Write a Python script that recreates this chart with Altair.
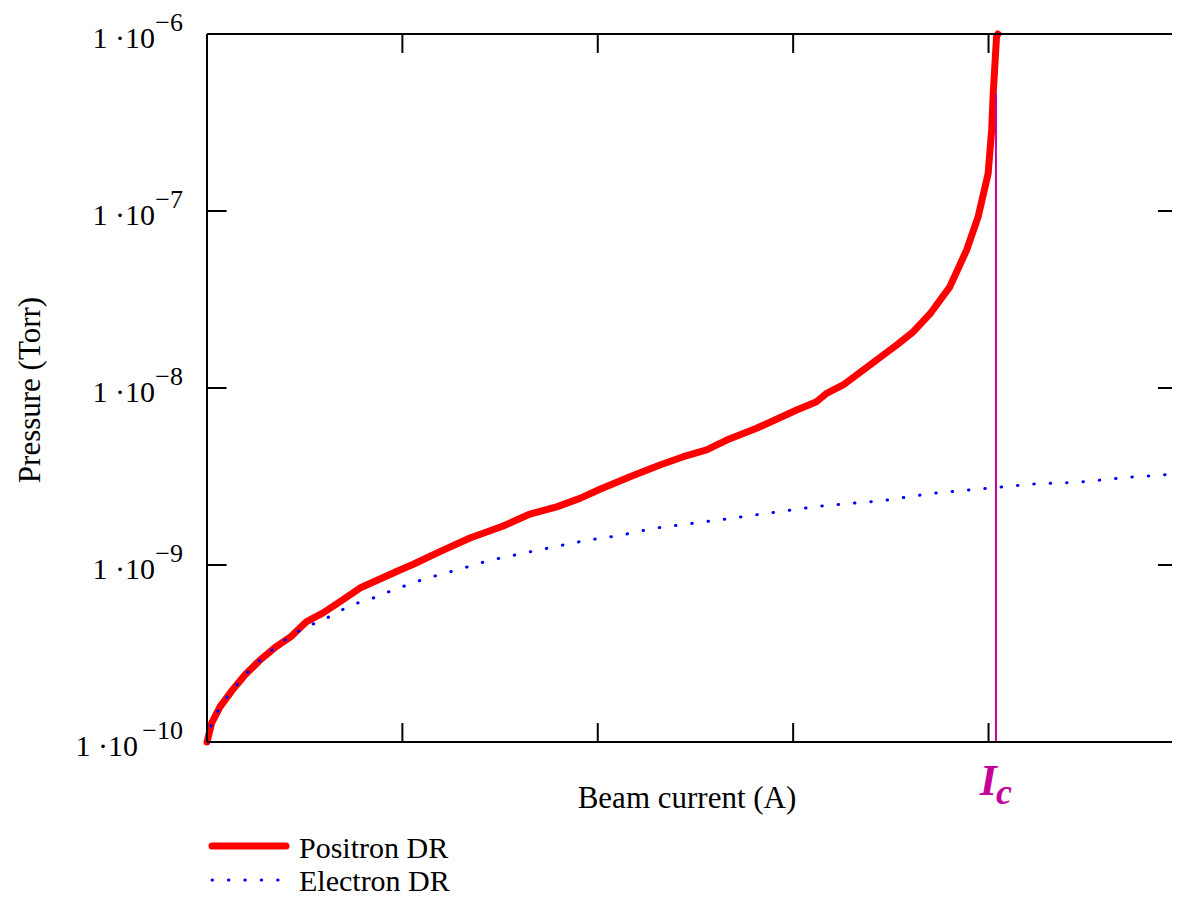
import altair as alt
import pandas as pd

# ---------------- data ----------------
series_names = ["Positron DR", "Electron DR"]

# Positron DR (red, solid)
pos_x = [0, 0.024, 0.0665, 0.126, 0.194, 0.268, 0.353, 0.433, 0.510, 0.594, 0.681,
         0.783, 0.885, 0.988, 1.056, 1.192, 1.346, 1.516, 1.653, 1.790, 1.909, 2.011,
         2.165, 2.318, 2.438, 2.557, 2.660, 2.813, 3.018, 3.120, 3.171, 3.256, 3.393,
         3.530, 3.615, 3.700, 3.802, 3.888, 3.947, 3.998, 4.016, 4.024, 4.041, 4.048]
pos_p = [1.0e-10, 1.28e-10, 1.58e-10, 1.94e-10, 2.39e-10, 2.88e-10, 3.45e-10, 3.97e-10,
         4.79e-10, 5.36e-10, 6.21e-10, 7.41e-10, 8.34e-10, 9.37e-10, 1.01e-9, 1.19e-9,
         1.42e-9, 1.66e-9, 1.94e-9, 2.13e-9, 2.38e-9, 2.68e-9, 3.15e-9, 3.67e-9, 4.09e-9,
         4.47e-9, 5.08e-9, 5.92e-9, 7.51e-9, 8.37e-9, 9.33e-9, 1.04e-8, 1.35e-8, 1.75e-8,
         2.08e-8, 2.62e-8, 3.73e-8, 6.02e-8, 9.29e-8, 1.63e-7, 2.87e-7, 4.62e-7, 9.66e-7,
         1.0e-6]

# Electron DR (blue, dotted)
ele_x = [0, 0.024, 0.0665, 0.126, 0.194, 0.268, 0.353, 0.433, 0.518, 0.604, 0.689,
         0.774, 0.855, 0.940, 1.107, 1.278, 1.443, 1.611, 1.781, 1.946, 2.114, 2.284,
         2.625, 2.881, 3.136, 3.458, 3.710, 3.961, 4.213, 4.464, 4.717, 4.886, 4.975]
ele_p = [1.0e-10, 1.28e-10, 1.58e-10, 1.94e-10, 2.39e-10, 2.88e-10, 3.45e-10, 4.02e-10,
         4.52e-10, 4.95e-10, 5.57e-10, 6.12e-10, 6.53e-10, 7.13e-10, 8.30e-10, 9.37e-10,
         1.06e-9, 1.16e-9, 1.27e-9, 1.38e-9, 1.47e-9, 1.61e-9, 1.80e-9, 1.97e-9, 2.15e-9,
         2.31e-9, 2.54e-9, 2.69e-9, 2.86e-9, 2.94e-9, 3.13e-9, 3.22e-9, 3.31e-9]

# critical current marker
ic_x = [4.038]
ic_p_top = [4.6e-7]
ic_label = ["I", "c"]

# axes
x_ticks = [0, 1, 2, 3, 4]
y_exps = [-10, -9, -8, -7, -6]
x_title = "Beam current (A)"
y_title = "Pressure (Torr)"

X_MAX = 4.939          # visible right edge of the plot
P_MIN, P_MAX = 1e-10, 1e-6

FONT = "Liberation Serif"
RED = "#ff0000"
BLUE = "#0000ff"
MAGENTA = "#c8009b"

# ---------------- tables ----------------
pos_df = pd.DataFrame({"x": pos_x, "p": pos_p})
ele_df = pd.DataFrame({"x": ele_x, "p": ele_p})
ic_df = pd.DataFrame({"x": ic_x, "p": [P_MIN], "p2": ic_p_top})

dec = [10.0 ** e for e in y_exps]
ylab_df = pd.DataFrame({
    "p": dec,
    "main": ["1 \u00b710"] * len(y_exps),
    "sup": ["\u2212" + str(abs(e)) for e in y_exps],
    "e": y_exps,
})

TX = 0.1            # tick length in x units (~20px)
TY = 0.107          # tick length in decades (~19px)
n = len(dec)
left_ticks = pd.DataFrame({"p": dec, "x": [0] * n, "x2": [TX] * n})
right_ticks = pd.DataFrame({"p": dec, "x": [X_MAX - 0.072] * n, "x2": [X_MAX] * n})
m = len(x_ticks)
bot_ticks = pd.DataFrame({"x": x_ticks, "p": [P_MIN] * m, "p2": [10 ** (-10 + TY)] * m})
top_ticks = pd.DataFrame({"x": x_ticks, "p": [P_MAX] * m, "p2": [10 ** (-6 - TY)] * m})
h_lines = pd.DataFrame({"x": [0, 0], "x2": [X_MAX, X_MAX], "p": [P_MIN, P_MAX]})
v_line = pd.DataFrame({"x": [0], "p": [P_MIN], "p2": [P_MAX]})

xs = alt.Scale(domain=[0, X_MAX], nice=False, zero=False)
ys = alt.Scale(type="log", domain=[P_MIN, P_MAX], nice=False)
X = alt.X("x:Q", scale=xs, axis=None)
Y = alt.Y("p:Q", scale=ys, axis=None)

# ---------------- layers ----------------
red = alt.Chart(pos_df).mark_line(color=RED, strokeWidth=7, strokeCap="round",
                                  strokeJoin="round").encode(x=X, y=Y, order="x:Q")

blue = alt.Chart(ele_df).mark_line(color=BLUE, strokeWidth=3, strokeDash=[0.5, 15.9],
                                   strokeCap="round", clip=True).encode(
    x=X, y=Y, order="x:Q")

ic_rule = alt.Chart(ic_df).mark_rule(color=MAGENTA, strokeWidth=2).encode(
    x=X, y=Y, y2="p2:Q")

ic_I = alt.Chart(ic_df).mark_text(
    text=ic_label[0], font=FONT, fontSize=44, fontStyle="italic", fontWeight="bold",
    color=MAGENTA, align="right", baseline="alphabetic", dx=1).encode(
    x=X, y=alt.value(761))
ic_c = alt.Chart(ic_df).mark_text(
    text=ic_label[1], font=FONT, fontSize=36, fontStyle="italic", fontWeight="bold",
    color=MAGENTA, align="left", baseline="alphabetic", dx=0).encode(
    x=X, y=alt.value(770))

frame_style = dict(color="black", strokeWidth=2)
lt = alt.Chart(left_ticks).mark_rule(**frame_style).encode(x=X, x2="x2:Q", y=Y)
rt = alt.Chart(right_ticks).mark_rule(**frame_style).encode(x=X, x2="x2:Q", y=Y)
bt = alt.Chart(bot_ticks).mark_rule(**frame_style).encode(x=X, y=Y, y2="p2:Q")
tt = alt.Chart(top_ticks).mark_rule(**frame_style).encode(x=X, y=Y, y2="p2:Q")
hl = alt.Chart(h_lines).mark_rule(**frame_style).encode(x=X, x2="x2:Q", y=Y)
vl = alt.Chart(v_line).mark_rule(**frame_style).encode(x=X, y=Y, y2="p2:Q")

# y tick labels "1 ·10^-n"
lab_main_1 = alt.Chart(ylab_df).transform_filter("datum.e > -10").mark_text(
    font=FONT, fontSize=30, color="black", align="right", baseline="alphabetic",
    dy=14).encode(x=alt.value(-52), y=Y, text="main:N")
lab_main_2 = alt.Chart(ylab_df).transform_filter("datum.e <= -10").mark_text(
    font=FONT, fontSize=30, color="black", align="right", baseline="alphabetic",
    dy=14).encode(x=alt.value(-69), y=Y, text="main:N")
lab_sup = alt.Chart(ylab_df).mark_text(
    font=FONT, fontSize=26, color="black", align="right", baseline="alphabetic",
    dy=-3).encode(x=alt.value(-24), y=Y, text="sup:N")

# axis titles
xt = alt.Chart(pd.DataFrame({"t": [x_title]})).mark_text(
    font=FONT, fontSize=31, color="black", align="center", baseline="alphabetic").encode(
    x=alt.value(480), y=alt.value(774), text="t:N")
yt = alt.Chart(pd.DataFrame({"t": [y_title]})).mark_text(
    font=FONT, fontSize=31, color="black", align="center", baseline="alphabetic",
    angle=270).encode(x=alt.value(-167), y=alt.value(356), text="t:N")

# legend (below the plot)
leg_red = alt.Chart(pd.DataFrame({"n": [series_names[0]]})).mark_rule(
    color=RED, strokeWidth=7, strokeCap="round").encode(
    x=alt.value(5), x2=alt.value(79), y=alt.value(812))
leg_red_t = alt.Chart(pd.DataFrame({"n": [series_names[0]]})).mark_text(
    font=FONT, fontSize=30, color="black", align="left", baseline="alphabetic").encode(
    x=alt.value(92), y=alt.value(824), text="n:N")
leg_blue = alt.Chart(pd.DataFrame({"n": [series_names[1]]})).mark_rule(
    color=BLUE, strokeWidth=3, strokeDash=[0.5, 15.9], strokeCap="round").encode(
    x=alt.value(5), x2=alt.value(76), y=alt.value(846))
leg_blue_t = alt.Chart(pd.DataFrame({"n": [series_names[1]]})).mark_text(
    font=FONT, fontSize=30, color="black", align="left", baseline="alphabetic").encode(
    x=alt.value(92), y=alt.value(857), text="n:N")

chart = alt.layer(
    red, blue, ic_rule, hl, vl, lt, rt, bt, tt, ic_I, ic_c,
    lab_main_1, lab_main_2, lab_sup, xt, yt,
    leg_red, leg_red_t, leg_blue, leg_blue_t,
).properties(
    width=965, height=708,
    autosize=alt.AutoSizeParams(type="none"),
    padding={"left": 199, "top": 26, "right": 0, "bottom": 155},
).configure_view(stroke=None)

chart.save("out.html", embed_options={"renderer": "svg", "actions": False})
